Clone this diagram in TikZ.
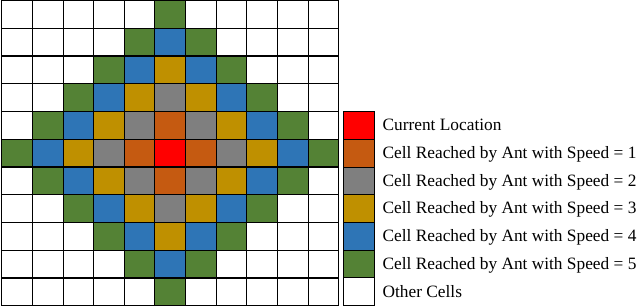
\documentclass[tikz,border=0pt]{standalone}
\usepackage{fontspec}
\setmainfont{Liberation Serif}
\usetikzlibrary{positioning}
\definecolor{reach0}{HTML}{FF0000}
\definecolor{reach1}{HTML}{C55A11}
\definecolor{reach2}{HTML}{7F7F7F}
\definecolor{reach3}{HTML}{BF9000}
\definecolor{reach4}{HTML}{2E75B6}
\definecolor{reach5}{HTML}{548235}
\definecolor{reach6}{HTML}{FFFFFF}

\begin{document}
\begin{tikzpicture}[
    x=0.75pt, y=-0.75pt,
    cell/.style={rectangle, draw=black, line width=0.75pt, minimum width=23pt, minimum height=20.8pt, inner sep=0pt, outer sep=0pt},
    key/.style={font=\fontsize{13}{15}\selectfont, anchor=west, inner sep=0pt, text height=1.75ex, text depth=0pt}
]
    \useasboundingbox (0,0) rectangle (640,307);

    % Grid of cells, coloured by distance from the centre
    \foreach \r in {0,...,10}{
        \foreach \c in {0,...,10}{
            \pgfmathtruncatemacro{\dist}{min(abs(\r-5)+abs(\c-5),6)}
            \node[cell, fill=reach\dist] (cell-\r-\c) at (17.03+30.66*\c, 14.375+27.75*\r) {};
        }
    }

    % Legend swatches
    \node[cell, fill=reach0] (swatch0) at (359, 125.4) {};
    \node[cell, fill=reach1, below=0pt of swatch0] (swatch1) {};
    \node[cell, fill=reach2, below=0pt of swatch1] (swatch2) {};
    \node[cell, fill=reach3, below=0pt of swatch2] (swatch3) {};
    \node[cell, fill=reach4, below=0pt of swatch3] (swatch4) {};
    \node[cell, fill=reach5, below=0pt of swatch4] (swatch5) {};
    \node[cell, fill=reach6, below=0pt of swatch5] (swatch6) {};

    % Legend texts
    \node[key, right=6pt of swatch0] (key0) {Current Location};
    \node[key, right=6pt of swatch1] (key1) {Cell Reached by Ant with Speed = 1};
    \node[key, right=6pt of swatch2] (key2) {Cell Reached by Ant with Speed = 2};
    \node[key, right=6pt of swatch3] (key3) {Cell Reached by Ant with Speed = 3};
    \node[key, right=6pt of swatch4] (key4) {Cell Reached by Ant with Speed = 4};
    \node[key, right=6pt of swatch5] (key5) {Cell Reached by Ant with Speed = 5};
    \node[key, right=6pt of swatch6] (key6) {Other Cells};
\end{tikzpicture}
\end{document}
